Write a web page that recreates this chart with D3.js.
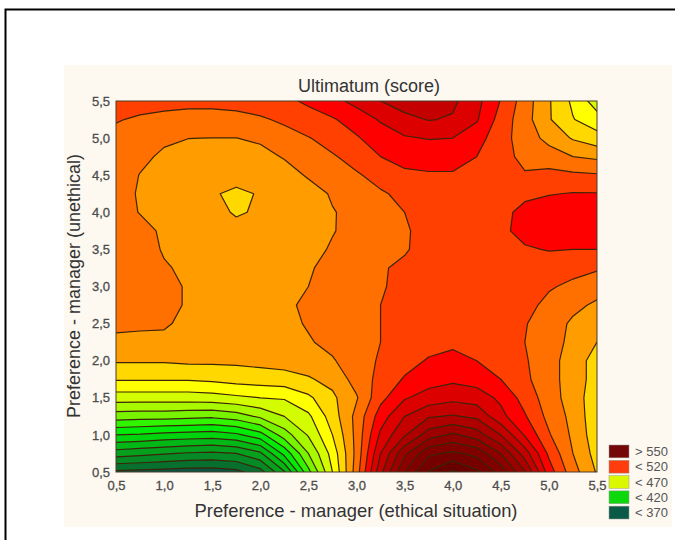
<!DOCTYPE html>
<html>
<head>
<meta charset="utf-8">
<script src="https://cdnjs.cloudflare.com/ajax/libs/d3/7.8.5/d3.min.js"></script>
<style>
body { margin: 0; background: #fff; }
svg { display: block; font-family: "Liberation Sans", Arial, sans-serif; }
.tick text { font-size: 13px; fill: #4c4c4c; stroke: #4c4c4c; stroke-width: 0.3px; }
</style>
</head>
<body>
<svg width="675" height="540"></svg>
<script>
var titleText = "Ultimatum (score)",
    xLabel = "Preference - manager (ethical situation)",
    yLabel = "Preference - manager (unethical)";

var ticks = [0.5, 1, 1.5, 2, 2.5, 3, 3.5, 4, 4.5, 5, 5.5];

// grid positions, one value every 0,25
var gridX = [0.5,0.75,1,1.25,1.5,1.75,2,2.25,2.5,2.75,3,3.25,3.5,3.75,4,4.25,4.5,4.75,5,5.25,5.5];
var gridY = [5.5,5.25,5,4.75,4.5,4.25,4,3.75,3.5,3.25,3,2.75,2.5,2.25,2,1.75,1.5,1.25,1,0.75,0.5];

// score, first row is y = 5,5
var score = [
  [512,513,513,513,513,514,516,518,521.5,527,533,540,545,547.5,542,533,519.5,505,491,478,465],
  [510.5,509,507.5,506,506,506.5,508.5,512,516.5,519,524.5,531,537,540.5,539,531,516,504,491,480.5,474],
  [508,505,501.5,500.1,499.9,499.9,501.5,505.5,509.5,514,519,525,529,530.5,530,524,514,505,497,489,484],
  [507,502,498.5,497,496,496,497,500.7,505,509,513.5,520,523.5,524,524,520,514,507,504.6,500,498],
  [505,499.7,497,495,493,491.5,493,496,501,504.5,509,513,518,519,519,517.5,515,511,513,512,511],
  [504,499,496,494,490.4,489.2,490.3,493,496,501,505,509,512,515,517,518,516,518.5,519.5,520.5,520.5],
  [505,499.5,496,494,491.5,489.5,490.6,493,495.5,499.5,502.5,506,510,513,516,518,518,522,525,526,526],
  [508,504,498,495,494,491.5,494,495,497,499.5,503,506,509,513,516,517,518,523,525,525,525],
  [508,505,499,496,495,494,494,495,497,501,505,508,509,514,516,517,518,519,520.5,520,520],
  [508,506,501,498,496,495,495,496,499,503,507,509,512,515,516,517,518,518,515,513,511],
  [507,506,503,499,497,496,496,498,500,504,508,509,513,515,516,516,516,515,511,508,505],
  [505,505,503,499,497,496,496,498,502,505,508,510,513,515,516,516,514,513,507.5,503,498],
  [503,502,501,498,497,496,496,497,501,504,507,510,513,515,516,516,514,510.5,506,498,493],
  [497,497,498,497,496,495,495,496,499,503,507,510,514,516,518,517,514,510,505,497,490],
  [491,491,491,492,492,492,493,494,495,499,506,511,516,521,523,520,516,511,504,495,486],
  [481,481,481,481,482,484,485,486,489,493,504,513,521,526,528,526,520,512,504,495,486],
  [465,465,465,465,466,468,470,471,478,488,499,517,529,534,537,535,528,516,505,495,484],
  [445,444,444,443,442,445,452,460,468,485,503,525,540,549,551,548,533,521,507,497,483],
  [420,419,417,416,415,418,426,445,461,480,503,532,549,565,572,565,550,529,511,498,484],
  [395,393,391,389,388,390,398,423,450,474,503,540,568,588,592,587,570,545,518,500,486],
  [368,367,366,365,365,367,376,399,437,470,505,547,580,601,612,602,586,561,525,504,489]
];

// contour levels and the colour of the band above each one
var levels = d3.range(370, 620, 10);
var baseColor = "#0a5442";
var bandColors = ["#07702e","#068a26","#04a01e","#02b816","#00d40e","#00ec08","#30f400","#78f400","#a8f800","#d4fc00",
                  "#ffff00","#ffd800","#ff9c00","#ff7000","#ff4000","#ff0000","#dc0000","#c40000","#ae0000","#9c0000",
                  "#8c0000","#800000","#740000","#680000","#5a0000"];

var legendLabels = ["> 550", "< 520", "< 470", "< 420", "< 370"];
var legendColors = ["#740808", "#ff3c0c", "#dcf800", "#0cd80c", "#0a5a48"];

var svg = d3.select("svg");

// page frame and cream panel behind the chart
svg.append("path").attr("d", "M5.5,540V9.5H675").attr("fill", "none").attr("stroke", "#000").attr("stroke-width", 2);
svg.append("rect").attr("x", 64).attr("y", 65).attr("width", 608).attr("height", 462).attr("fill", "#fdf9f1");

var xScale = d3.scaleLinear().domain([0.5, 5.5]).range([116, 597]),
    yScale = d3.scaleLinear().domain([0.5, 5.5]).range([472, 101]);

svg.append("clipPath").attr("id", "plot").append("rect")
    .attr("x", xScale(0.5)).attr("y", yScale(5.5))
    .attr("width", xScale(5.5) - xScale(0.5)).attr("height", yScale(0.5) - yScale(5.5));

var values = d3.merge(score);
var contours = d3.contours().size([gridX.length, gridY.length]).thresholds(levels)(values);

// contour coordinates are grid index + 0.5
var stepX = d3.scaleLinear().domain([0.5, gridX.length - 0.5]).range([gridX[0], gridX[gridX.length - 1]]),
    stepY = d3.scaleLinear().domain([0.5, gridY.length - 0.5]).range([gridY[0], gridY[gridY.length - 1]]);
var path = d3.geoPath(d3.geoTransform({
    point: function(px, py) { this.stream.point(xScale(stepX(px)), yScale(stepY(py))); }
}));

var g = svg.append("g").attr("clip-path", "url(#plot)");
g.append("rect")
    .attr("x", xScale(0.5)).attr("y", yScale(5.5))
    .attr("width", xScale(5.5) - xScale(0.5)).attr("height", yScale(0.5) - yScale(5.5))
    .attr("fill", baseColor);
g.selectAll("path")
    .data(contours)
    .enter().append("path")
    .attr("d", path)
    .attr("fill", function(d, i) { return bandColors[i]; })
    .attr("stroke", "#3c2408")
    .attr("stroke-width", 1.2)
    .attr("stroke-linejoin", "round");

// plot border
svg.append("rect")
    .attr("x", xScale(0.5)).attr("y", yScale(5.5))
    .attr("width", xScale(5.5) - xScale(0.5)).attr("height", yScale(0.5) - yScale(5.5))
    .attr("fill", "none").attr("stroke", "#4a3a28").attr("stroke-width", 1);

function fmt(d) { return d3.format(".1f")(d).replace(".", ","); }

var xAxis = svg.append("g")
    .attr("transform", "translate(0," + yScale(0.5) + ")")
    .call(d3.axisBottom(xScale).tickValues(ticks).tickFormat(fmt).tickSize(0).tickPadding(9));
var yAxis = svg.append("g")
    .attr("transform", "translate(" + xScale(0.5) + ",0)")
    .call(d3.axisLeft(yScale).tickValues(ticks).tickFormat(fmt).tickSize(0).tickPadding(6));
xAxis.select(".domain").remove();
yAxis.select(".domain").remove();

svg.append("text").attr("x", 369).attr("y", 92).attr("text-anchor", "middle")
    .attr("font-size", "18px").attr("fill", "#333").text(titleText);
svg.append("text").attr("x", 356).attr("y", 517).attr("text-anchor", "middle")
    .attr("font-size", "18.4px").attr("fill", "#333").text(xLabel);
svg.append("text").attr("transform", "translate(80,286) rotate(-90)").attr("text-anchor", "middle")
    .attr("font-size", "18px").attr("fill", "#333").text(yLabel);

var legendY = d3.scaleBand().domain(legendLabels).range([445, 519]).paddingInner(0.16);
var legend = svg.selectAll(".legend").data(legendLabels).enter().append("g").attr("class", "legend");
legend.append("rect")
    .attr("x", 609).attr("y", function(d) { return legendY(d); })
    .attr("width", 20).attr("height", legendY.bandwidth())
    .attr("fill", function(d, i) { return legendColors[i]; })
    .attr("stroke", "#999").attr("stroke-width", 0.5);
legend.append("text")
    .attr("x", 635).attr("y", function(d) { return legendY(d) + legendY.bandwidth() / 2 + 4.5; })
    .attr("font-size", "13px").attr("fill", "#555").text(function(d) { return d; });
</script>
</body>
</html>
